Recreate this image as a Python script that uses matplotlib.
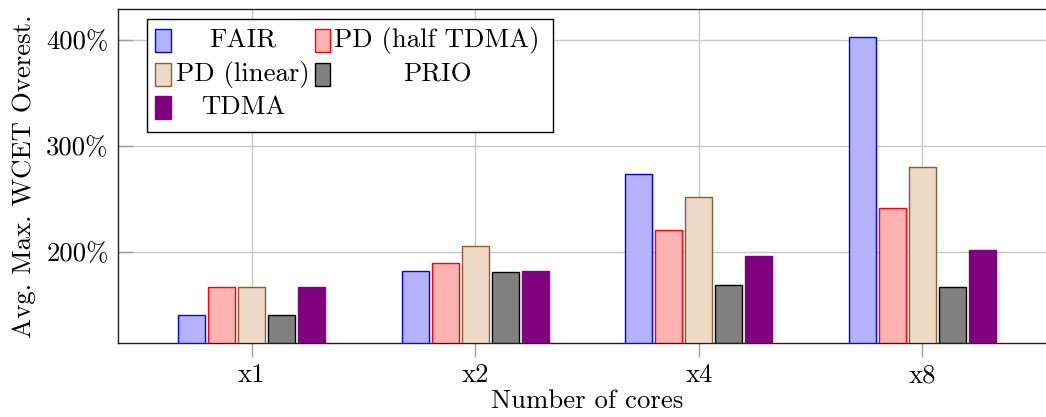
import numpy as np
import matplotlib
matplotlib.use("Agg")
import matplotlib.pyplot as plt
from matplotlib.patches import Rectangle

plt.rcParams['font.family'] = ['cmr10', 'DejaVu Serif']
plt.rcParams['mathtext.fontset'] = 'cm'
plt.rcParams['axes.unicode_minus'] = False

# --- data ---
cores = ['x1', 'x2', 'x4', 'x8']
fair = [139.9, 181.5, 273.3, 403.1]
pd_half = [166.9, 189.0, 220.8, 241.6]
pd_linear = [166.9, 205.4, 251.4, 280.4]
prio = [139.9, 180.8, 168.5, 167.0]
tdma = [166.9, 182.1, 195.9, 201.6]

series_names = ['FAIR', 'PD (half TDMA)', 'PD (linear)', 'PRIO', 'TDMA']
yticks = [200, 300, 400]
ytick_labels = ['200%', '300%', '400%']

# pgfplots-like colours (colour!30 = 30% colour, 70% white)
fills = ['#B3B3FF', '#FFB3B3', '#ECD9C6', '#808080', '#800080']
edges = ['#0000FF', '#FF0000', '#8C5E33', '#000000', '#800080']

W, H = 1046, 417
FS = 19.3
fig = plt.figure(figsize=(W / 100, H / 100), dpi=100)

# axes box in pixels (right edge runs off the canvas like the reference)
left, right, top, bottom = 118.3, 1056.0, 9.3, 342.7
ax = fig.add_axes([left / W, 1 - bottom / H, (right - left) / W, (bottom - top) / H])

x = np.arange(len(cores))
step = 0.1342
width = 0.1208
all_series = [fair, pd_half, pd_linear, prio, tdma]
for i, vals in enumerate(all_series):
    offs = (i - 2) * step
    heights = np.array(vals) - 114.0
    ax.bar(x + offs, heights, width=width, bottom=114.0, color=fills[i],
           edgecolor=edges[i], linewidth=1.0, zorder=3)

ax.set_xlim(-0.598, 3.598)
ax.set_ylim(114.0, 429.0)
ax.set_xticks(x)
ax.set_xticklabels(cores, fontsize=FS)
ax.set_yticks(yticks)
ax.set_yticklabels(ytick_labels, fontsize=FS)
ax.grid(True, color='#C8C8C8', linewidth=1.0, zorder=0)
ax.tick_params(axis='y', direction='in', length=11, width=1.0, color='#A0A0A0', pad=7)
ax.tick_params(axis='x', direction='out', length=10, width=1.0, color='#A0A0A0', pad=5)
for s in ['left', 'top', 'bottom']:
    ax.spines[s].set_color('#202020')
    ax.spines[s].set_linewidth(1.0)
ax.spines['right'].set_visible(False)


def fx(px):
    return px / W


def fy(py):
    return 1 - py / H


fig.text(fx(24), fy(176), 'Avg. Max. WCET Overest.', rotation=90,
         ha='center', va='center', fontsize=FS)
fig.text(fx(587), fy(408), 'Number of cores', ha='center', va='baseline', fontsize=FS)

# --- legend drawn by hand (pgfplots style, 2 columns, centred text) ---
fig.add_artist(Rectangle((fx(147), fy(132.3)), fx(553) - fx(147), fy(19.3) - fy(132.3),
                         transform=fig.transFigure, facecolor='white',
                         edgecolor='black', linewidth=1.0, zorder=5))
col_patch_x = [155.4, 315.0]
col_text_x = [243, 437]
row_y = [40.5, 74.5, 107.5]
for i, name in enumerate(series_names):
    r, c = divmod(i, 2)
    yc = row_y[r]
    fig.add_artist(Rectangle((fx(col_patch_x[c]), fy(yc + 11.5)), 15.3 / W, 23 / H,
                             transform=fig.transFigure, facecolor=fills[i],
                             edgecolor=edges[i], linewidth=1.0, zorder=6))
    fig.text(fx(col_text_x[c]), fy(yc), name, ha='center', va='center',
             fontsize=FS, zorder=6)

fig.savefig('out.png', dpi=100)
